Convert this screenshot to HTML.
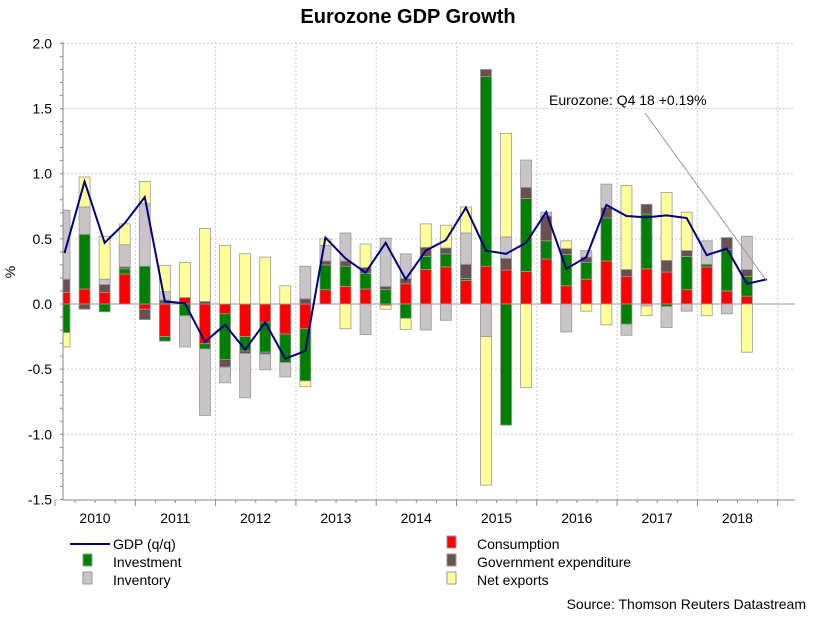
<!DOCTYPE html>
<html><head><meta charset="utf-8"><style>
body{margin:0;background:#fff;font-family:"Liberation Sans",Arial,sans-serif;}
svg text{font-family:"Liberation Sans",Arial,sans-serif;}
</style></head><body>
<svg id="chart" width="815" height="613" xmlns="http://www.w3.org/2000/svg">
<rect width="815" height="613" fill="#fff"/>
<text x="408" y="23" text-anchor="middle" font-size="20" font-weight="bold">Eurozone GDP Growth</text>
<text x="15" y="272" font-size="14" text-anchor="middle" transform="rotate(-90 15 272)">%</text>
<g id="grid"></g><g id="bars"></g><g id="axes"></g><g id="line"></g>
<text x="549" y="105" font-size="14">Eurozone: Q4 18 +0.19%</text>
<line x1="645" y1="113" x2="766" y2="280" stroke="#999" stroke-width="1"/>
<g font-size="14">
<line x1="70" y1="544" x2="110" y2="544" stroke="#000080" stroke-width="2"/>
<text x="113" y="549">GDP (q/q)</text>
<rect x="83" y="554" width="9" height="12" fill="#008000" stroke="#999"/>
<text x="113" y="567">Investment</text>
<rect x="83" y="572" width="9" height="12" fill="#c8c4c8" stroke="#999"/>
<text x="113" y="585">Inventory</text>
<rect x="447" y="536" width="9" height="12" fill="#ff0000" stroke="#999"/>
<text x="477" y="549">Consumption</text>
<rect x="447" y="554" width="9" height="12" fill="#6b5050" stroke="#999"/>
<text x="477" y="567">Government expenditure</text>
<rect x="447" y="572" width="9" height="12" fill="#ffff99" stroke="#999"/>
<text x="477" y="585">Net exports</text>
</g>
<text x="806" y="609" font-size="14" text-anchor="end">Source: Thomson Reuters Datastream</text>
</svg>
<script>
const consumption=[0.09,0.115,0.09,0.23,-0.04,-0.25,0.05,-0.305,-0.075,-0.25,-0.14,-0.23,-0.19,0.11,0.135,0.115,-0.01,0.155,0.265,0.285,0.18,0.29,0.26,0.25,0.345,0.14,0.19,0.33,0.21,0.27,0.245,0.11,0.285,0.1,0.06];
const investment=[-0.22,0.42,-0.06,0.04,0.29,-0.035,-0.09,-0.04,-0.35,-0.11,-0.23,-0.22,-0.40,0.19,0.155,0.12,0.11,-0.11,0.1,0.1,0.015,1.455,-0.93,0.56,0.14,0.24,0.13,0.33,-0.155,0.42,-0.02,0.255,0.02,0.32,0.15];
const government=[0.10,-0.04,0.06,0.015,-0.08,0.03,0,0.02,-0.06,-0.02,-0.015,0,0.04,0.03,0.04,0.045,0.025,0.04,0.07,0.045,0.11,0.055,0.09,0.085,0.19,0.045,0.04,0.08,0.055,0.075,0.09,0.045,0,0.09,0.055];
const inventory=[0.53,0.21,0.04,0.17,0.48,0.065,-0.24,-0.51,-0.12,-0.34,-0.12,-0.11,0.25,0.12,0.215,-0.235,0.37,0.19,-0.2,-0.125,0.24,-0.25,0.165,0.21,0.03,-0.215,0.05,0.18,-0.085,-0.015,-0.16,-0.055,0.18,-0.075,0.255];
const netExports=[-0.11,0.23,0.33,0.16,0.17,0.2,0.27,0.56,0.45,0.385,0.36,0.14,-0.045,0.05,-0.19,0.18,-0.03,-0.085,0.18,0.175,0.2,-1.14,0.795,-0.64,0,0.06,-0.055,-0.16,0.645,-0.075,0.52,0.295,-0.09,0,-0.37];
const gdp=[0.39,0.94,0.47,0.62,0.82,0.02,0.005,-0.29,-0.16,-0.35,-0.14,-0.42,-0.36,0.51,0.35,0.24,0.47,0.19,0.41,0.49,0.74,0.41,0.385,0.47,0.705,0.27,0.36,0.76,0.675,0.665,0.68,0.66,0.375,0.425,0.155,0.19];
const years=["2010","2011","2012","2013","2014","2015","2016","2017","2018"];
const yTicks=[2.0,1.5,1.0,0.5,0.0,-0.5,-1.0,-1.5];

const NS="http://www.w3.org/2000/svg";
const L=63,R=795,T=42,B=500;
const y=v=>304-v*130.3;
const xq=k=>64.5+20.07*k;
const xb=yr=>55+80.3*yr;
function mk(tag,attrs,parent){const e=document.createElementNS(NS,tag);for(const k in attrs)e.setAttribute(k,attrs[k]);parent.appendChild(e);return e;}
const grid=document.getElementById('grid'),axes=document.getElementById('axes'),bars=document.getElementById('bars'),lineG=document.getElementById('line');
yTicks.forEach(t=>{
  if(t>-1.5){const g=mk('line',{x1:L,x2:R,y1:y(t),y2:y(t),stroke:t===0?'#999':'#ccc','stroke-dasharray':t===0?'':'2,2'},grid);
  
  }
  const tx=mk('text',{x:52,y:y(t)+5,'text-anchor':'end','font-size':14},axes);
  tx.textContent=t.toFixed(1);
  
  
});
for(let v=-1.5;v<=2.001;v+=0.1){mk('line',{x1:L-3,x2:L,y1:y(v),y2:y(v),stroke:'#888'},axes);}
years.forEach((yr,i)=>{
  const g=mk('line',{x1:xb(i+1),x2:xb(i+1),y1:T,y2:B,stroke:'#ccc','stroke-dasharray':'2,2'},grid);
  
  
  mk('line',{x1:xb(i),x2:xb(i),y1:B,y2:B+6,stroke:'#888'},axes);
  const tx=mk('text',{x:xb(i)+40,y:523,'text-anchor':'middle','font-size':14},axes);
  tx.textContent=yr;
  
  
  for(let q=1;q<4;q++)mk('line',{x1:xb(i)+q*20.07,x2:xb(i)+q*20.07,y1:B,y2:B+3,stroke:'#888'},axes);
});
mk('line',{x1:xb(9),x2:xb(9),y1:B,y2:B+6,stroke:'#888'},axes);
mk('line',{x1:L,x2:L,y1:T,y2:B,stroke:'#888'},axes);
mk('line',{x1:L,x2:R,y1:B,y2:B,stroke:'#888'},axes);
const series=[[consumption,'#ff0000','consumption'],[investment,'#008000','investment'],[government,'#6b5050','government'],[inventory,'#c8c4c8','inventory'],[netExports,'#ffff99','net-exports']];
for(let k=0;k<consumption.length;k++){
  let pos=0,neg=0;const cx=xq(k);
  series.forEach(([arr,col,nm])=>{
    const v=arr[k];if(!v)return;
    let a,b;if(v>0){a=pos;b=pos+v;pos=b;}else{a=neg;b=neg+v;neg=b;}
    let x0=cx-5.5,w=11;if(x0<L){w-=L-x0;x0=L;}
    const r=mk('rect',{x:x0,width:w,y:Math.min(y(a),y(b)),height:Math.abs(y(a)-y(b)),fill:col,stroke:'#999','stroke-width':0.8},bars);
    
    
  });
}
const pl=mk('polyline',{points:gdp.map((v,k)=>Math.max(xq(k),L)+','+y(v)).join(' '),fill:'none',stroke:'#000080','stroke-width':2},lineG);


</script>
</body></html>
